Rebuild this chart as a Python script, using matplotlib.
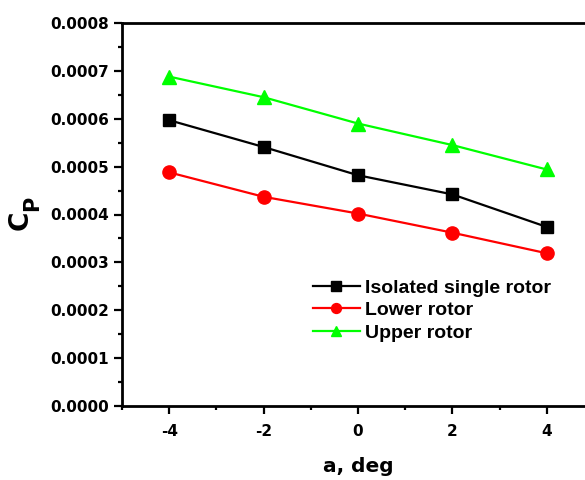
import matplotlib
matplotlib.use('Agg')
import matplotlib.pyplot as plt
from matplotlib.ticker import MultipleLocator, FormatStrFormatter

# ---- data
alpha = [-4, -2, 0, 2, 4]
isolated = [0.000597, 0.000541, 0.000482, 0.000442, 0.000374]
lower = [0.000488, 0.000437, 0.000402, 0.000362, 0.000319]
upper = [0.000688, 0.000645, 0.000590, 0.000545, 0.000494]

plt.rcParams['font.family'] = 'DejaVu Sans'
plt.rcParams['font.weight'] = 'bold'
plt.rcParams['axes.unicode_minus'] = False

W, H = 585, 480
fig = plt.figure(figsize=(W/100, H/100), dpi=100)
ax = fig.add_axes([122/W, 74/H, (594-122)/W, 383/H])

ax.plot(alpha, isolated, '-s', color='black', lw=1.6, ms=9, label='Isolated single rotor')
ax.plot(alpha, lower, '-o', color='red', lw=1.6, ms=9.5, label='Lower rotor')
ax.plot(alpha, upper, '-^', color='#00ff00', lw=1.6, ms=10, label='Upper rotor')

ax.set_xlim(-5, 5)
ax.set_ylim(0, 0.0008)
ax.xaxis.set_major_locator(MultipleLocator(2))
ax.xaxis.set_minor_locator(MultipleLocator(1))
ax.yaxis.set_major_locator(MultipleLocator(0.0001))
ax.yaxis.set_minor_locator(MultipleLocator(0.00005))
ax.yaxis.set_major_formatter(FormatStrFormatter('%.4f'))
ax.tick_params(which='major', direction='out', length=6, width=1.6, labelsize=11)
ax.tick_params(axis='x', which='major', pad=7)
ax.tick_params(which='minor', direction='out', length=3, width=1.6)
for s in ax.spines.values():
    s.set_linewidth(2)

# axis titles
fig.text(358/W, 1 - 472/H, 'a, deg', fontsize=14.5, fontweight='bold',
         ha='center', va='baseline')
fig.text(21/W, 1 - 220/H, 'C', fontsize=19, fontweight='bold', rotation=90,
         ha='center', va='center')
fig.text(32/W, 1 - 203/H, 'P', fontsize=15, fontweight='bold', rotation=90,
         ha='center', va='center')

ax.legend(loc='upper left', bbox_to_anchor=(313/W, 1 - 279/H),
          bbox_transform=fig.transFigure, frameon=False,
          prop={'family': 'Liberation Sans', 'weight': 'bold', 'size': 14},
          handlelength=2.4, handletextpad=0.25, labelspacing=0.25,
          borderpad=0, borderaxespad=0, markerscale=0.75)

fig.savefig('out.png', dpi=100)
